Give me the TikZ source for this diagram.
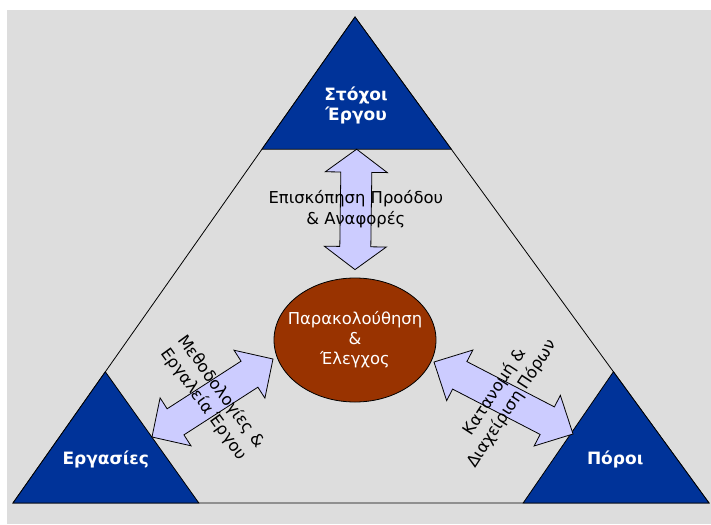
\documentclass[tikz,border=0pt]{standalone}
\usepackage{fontspec}
\setmainfont{DejaVu Sans}
\usetikzlibrary{calc,shapes.geometric}
\definecolor{bggray}{HTML}{DDDDDD}
\definecolor{cornerblue}{HTML}{003399}
\definecolor{centrebrown}{HTML}{993300}
\definecolor{arrowlilac}{HTML}{CCCCFF}
\tikzstyle{corner_tri} = [fill=cornerblue, draw=black, line width=0.8pt, line join=miter]
\tikzstyle{corner_txt} = [white, font=\bfseries\fontsize{17}{20}\selectfont, align=center, inner sep=0pt]
\tikzstyle{arr_txt} = [black, font=\fontsize{16.4}{21}\selectfont, align=center, inner sep=0pt]
\tikzstyle{centre_ell} = [ellipse, fill=centrebrown, draw=black, line width=0.8pt, text=white, font=\fontsize{16.4}{20}\selectfont, align=center, minimum width=162pt, minimum height=124pt, inner xsep=-12pt, inner ysep=0pt]
\tikzstyle{fat_arr} = [fill=arrowlilac, draw=black, line width=0.8pt, line join=miter]
\newcommand{\fatarrow}[4]{\draw[fat_arr] (#1) -- ($(#1)!#3!(#2)!#4!90:(#2)$) -- ($(#1)!#3!(#2)!15.5pt!90:(#2)$) -- ($(#2)!#3!(#1)!15.5pt!-90:(#1)$) -- ($(#2)!#3!(#1)!#4!-90:(#1)$) -- (#2) -- ($(#2)!#3!(#1)!#4!90:(#1)$) -- ($(#2)!#3!(#1)!15.5pt!90:(#1)$) -- ($(#1)!#3!(#2)!15.5pt!-90:(#2)$) -- ($(#1)!#3!(#2)!#4!-90:(#2)$) -- cycle;}
\begin{document}
\begin{tikzpicture}[x=1pt,y=-1pt]
\useasboundingbox (0,0) rectangle (711,524);
\fill[bggray] (7,10) rectangle (711,524);
\coordinate (T) at (355,17);
\coordinate (L) at (13,503);
\coordinate (R) at (709,503);
\draw[line width=0.8pt] (T) -- (L) -- (R) -- cycle;
\coordinate (TL) at ($(T)!0.272!(L)$);
\coordinate (TR) at ($(T)!0.272!(R)$);
\coordinate (LT) at ($(L)!0.27!(T)$);
\coordinate (LR) at ($(L)!0.267!(R)$);
\coordinate (RT) at ($(R)!0.27!(T)$);
\coordinate (RL) at ($(R)!0.267!(L)$);
\draw[corner_tri] (T) -- (TL) -- (TR) -- cycle;
\draw[corner_tri] (L) -- (LT) -- (LR) -- cycle;
\draw[corner_tri] (R) -- (RT) -- (RL) -- cycle;
\node[corner_txt] (goals) at (barycentric cs:T=1,TL=1,TR=1) {Στόχοι\\Έργου};
\node[corner_txt] (tasks) at (barycentric cs:L=1,LT=1,LR=1) {Εργασίες};
\node[corner_txt] (resources) at (barycentric cs:R=1,RT=1,RL=1) {Πόροι};
\node[centre_ell] (monitor) at (355,340) {Παρακολούθηση\\\&\\Έλεγχος};
\coordinate (up1) at ($(TL)!0.5!(TR)$);
\coordinate (up2) at ($(monitor.north)+(0,-8)$);
\coordinate (lf1) at (152,437);
\coordinate (lf2) at (273,359);
\coordinate (rt1) at (434,362);
\coordinate (rt2) at (573,434);
\fatarrow{up1}{up2}{23pt}{31pt}
\fatarrow{lf1}{lf2}{28pt}{28.5pt}
\fatarrow{rt1}{rt2}{29pt}{28.5pt}
\node[arr_txt] (review) at ($(up1)!0.5!(up2)$) {Επισκόπηση Προόδου\\\& Αναφορές};
\node[arr_txt, rotate=-54] (methods) at ($(lf1)!0.5!(lf2)$) {Μεθοδολογίες \&\\Εργαλεία Έργου};
\node[arr_txt, rotate=57] (allocation) at ($(rt1)!0.5!(rt2)$) {Κατανομή \&\\Διαχείριση Πόρων};
\end{tikzpicture}
\end{document}
